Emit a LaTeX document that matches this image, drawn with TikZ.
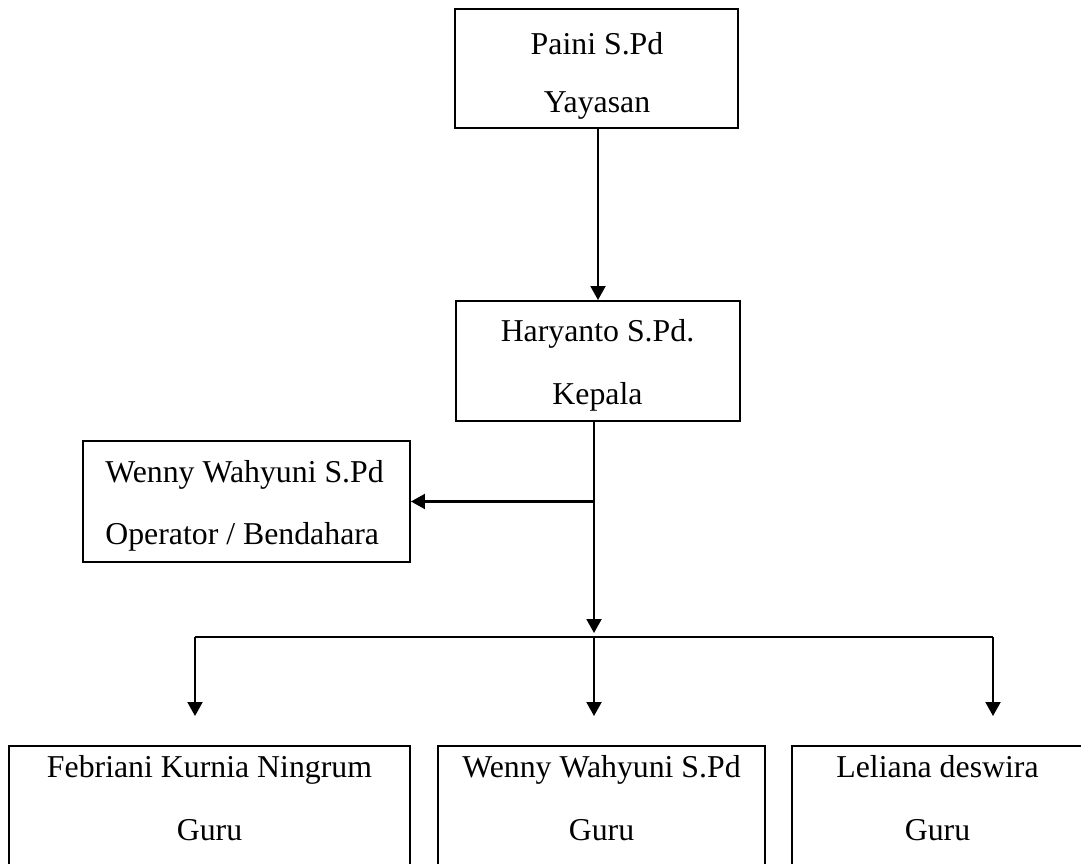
\documentclass[tikz,border=0pt]{standalone}
\usepackage{fontspec}
\setmainfont{Liberation Serif}
\usepackage{tikz}
\usetikzlibrary{positioning}
\usetikzlibrary{arrows.meta,calc}

\tikzset{
	box/.style={draw, line width=1.15pt, inner sep=0pt},
	txt/.style={anchor=base, inner sep=0pt, font=\fontsize{18.1}{22}\selectfont},
	arr/.style={line width=1.15pt, -{Triangle[length=0.28cm,width=0.30cm]}},
	bar/.style={line width=1.15pt}
}

\begin{document}
\begin{tikzpicture}[x=0.02cm,y=-0.02cm]
	
	\useasboundingbox (0,0) rectangle (1081,864);
	
	% NOTE: ONE UNIT = ONE PIXEL OF THE PAGE, Y RUNS DOWNWARDS
	%		BOXES ARE EMPTY NODES, THE TWO LINES OF TEXT SIT ON THEIR OWN BASELINES
	\node[box, minimum width=5.66cm, minimum height=2.38cm] (yayasan) at (596.5,68.5) {};
	\node[box, minimum width=5.68cm, minimum height=2.40cm] (kepala) at (598,361) {};
	\node[box, minimum width=6.54cm, minimum height=2.42cm] (operator) at (246.5,501.5) {};
	
	% the three bottom boxes run past the lower edge of the page
	\node[box, minimum width=8.02cm, minimum height=2.80cm] (guru1) at (209.5,816) {};
	\node[box, minimum width=6.54cm, minimum height=2.80cm] (guru2) at (601.5,816) {};
	\node[box, minimum width=5.82cm, minimum height=2.80cm] (guru3) at (937.5,816) {};
	
	%%%%%%%%%%%%%%%%%%%%%%%%%%%%%%%%%%%%%%%%%%%%%%%%%%%%%%%%%%%%%%
	\node[txt] (yayasan-nama) at (597,55) {Paini S.Pd};
	\node[txt] (yayasan-jabatan) at (597,113) {Yayasan};
	
	\node[txt] (kepala-nama) at (597.5,342) {Haryanto S.Pd.};
	\node[txt] (kepala-jabatan) at (597.5,405) {Kepala};
	
	\node[txt, anchor=base west] (operator-nama) at (105,482) {Wenny Wahyuni S.Pd};
	\node[txt, anchor=base west] (operator-jabatan) at (105,544) {Operator / Bendahara};
	
	\node[txt] (guru1-nama) at (209.5,777) {Febriani Kurnia Ningrum};
	\node[txt] (guru1-jabatan) at (209.5,840) {Guru};
	\node[txt] (guru2-nama) at (601.5,777) {Wenny Wahyuni S.Pd};
	\node[txt] (guru2-jabatan) at (601.5,840) {Guru};
	\node[txt] (guru3-nama) at (937.5,777) {Leliana deswira};
	\node[txt] (guru3-jabatan) at (937.5,840) {Guru};
	
	%%%%%%%%%%%%%%%%%%%%%%%%%%%%%%%%%%%%%%%%%%%%%%%%%%%%%%%%%%%%%%
	% USE \coordinate FOR THE FREE ENDS OF THE CONNECTORS
	\coordinate (hub) at (594,633);
	\coordinate (barL) at (195,637);
	\coordinate (barM) at (594,637);
	\coordinate (barR) at (993,637);
	\coordinate (tip1) at (195,716);
	\coordinate (tip2) at (594,716);
	\coordinate (tip3) at (993,716);
	
	\draw[arr] (yayasan.south -| kepala) -- (kepala.north);
	\draw[arr] (kepala.south -| hub) -- (hub);
	\draw[arr] (hub |- operator.east) -- (operator.east);
	
	\draw[bar] (barL) -- (barR);
	\draw[arr] (barL) -- (tip1);
	\draw[arr] (barM) -- (tip2);
	\draw[arr] (barR) -- (tip3);
	
\end{tikzpicture}
\end{document}
